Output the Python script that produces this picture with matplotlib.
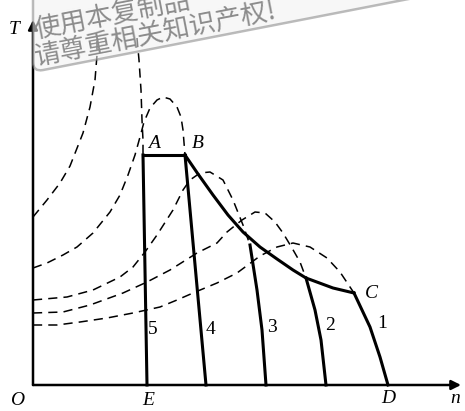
import numpy as np
import matplotlib.pyplot as plt
from matplotlib.patches import FancyBboxPatch
from matplotlib.transforms import Affine2D

# Mechanical characteristics T(n) for five supply frequencies (1 = highest, 5 = lowest)
# dashed: full natural characteristic, solid: working part
curve5_up_n = [0, 14, 27, 37, 50, 57, 62, 64, 64]
curve5_up_T = [168, 185, 202, 219, 252, 278, 305, 330, 347]
curve5_down_n = [104, 106, 108, 109, 110, 110]
curve5_down_T = [347, 325, 295, 265, 245, 230]

curve4_n = [0, 14, 30, 44, 60, 77, 87, 95, 102, 107, 111, 117, 124, 130, 137, 144, 148, 150, 152]
curve4_T = [117, 122, 130, 138, 152, 173, 190, 210, 230, 248, 263, 277, 285, 288, 286, 278, 268, 255, 230]

curve3_n = [0, 34, 60, 87, 100, 112, 124, 140, 150, 157, 167, 177, 190, 200, 210, 217]
curve3_T = [85, 88, 95, 108, 118, 133, 150, 175, 195, 205, 212, 213, 205, 185, 160, 140]

curve2_n = [0, 30, 57, 90, 114, 137, 164, 184, 194, 209, 222, 232, 242, 250, 259, 267, 273]
curve2_T = [72, 73, 80, 92, 103, 115, 132, 142, 153, 165, 173, 172, 163, 152, 137, 123, 107]

curve1_n = [0, 24, 47, 74, 100, 127, 144, 160, 184, 204, 227, 244, 260, 277, 294, 307, 321]
curve1_T = [60, 60, 63, 67, 72, 78, 85, 92, 102, 112, 129, 138, 142, 138, 127, 113, 92]

# working segments
line5_n, line5_T = [110, 114], [230, 0]
line4_n, line4_T = [152, 173], [230, 0]
line3_n, line3_T = [217, 224, 229, 233], [140, 95, 55, 0]
line2_n, line2_T = [273, 282, 288, 293], [107, 75, 45, 0]
line1_n, line1_T = [321, 337, 347, 355], [92, 58, 28, 0]

# limit lines: constant torque A-B, constant power B-C
ab_n, ab_T = [110, 152], [230, 230]
bc_n = [152, 165, 180, 195, 210, 227, 244, 260, 273, 300, 321]
bc_T = [230, 211, 190, 170, 153, 138, 126, 115, 107, 97, 92]

fig = plt.figure(figsize=(4.65, 4.11), dpi=100)
ax = fig.add_axes([0, 0, 1, 1])
ax.set_xlim(-33, 432)
ax.set_ylim(-26, 385)
ax.axis('off')

dash = dict(color='black', lw=1.1, ls=(0, (6, 4)))
for n, T in [(curve5_up_n, curve5_up_T), (curve5_down_n, curve5_down_T),
             (curve4_n, curve4_T), (curve3_n, curve3_T),
             (curve2_n, curve2_T), (curve1_n, curve1_T)]:
    ax.plot(n, T, **dash)

solid = dict(color='black', lw=2.2, solid_joinstyle='round')
for n, T in [(line5_n, line5_T), (line4_n, line4_T), (line3_n, line3_T),
             (line2_n, line2_T), (line1_n, line1_T), (ab_n, ab_T), (bc_n, bc_T)]:
    ax.plot(n, T, **solid)

# axes with arrows
arrow = dict(arrowstyle='-|>', lw=1.8, color='black', mutation_scale=14, shrinkA=0, shrinkB=0)
ax.annotate('', xy=(0, 365), xytext=(0, 0), arrowprops=arrow)
ax.annotate('', xy=(428, 0), xytext=(0, 0), arrowprops=arrow)

lab = dict(fontsize=14, style='italic', family='Liberation Serif', ha='center', va='center')
ax.text(-19, 355, 'T', **lab)
ax.text(-16, -15, 'O', **lab)
ax.text(115, -15, 'E', **lab)
ax.text(355, -13, 'D', **lab)
ax.text(422, -13, 'n', **lab)
ax.text(121, 242, 'A', **lab)
ax.text(165, 242, 'B', **lab)
ax.text(338, 92, 'C', **lab)

num = dict(fontsize=14, family='Liberation Serif', ha='center', va='center')
for x, y, s in [(120, 55, '5'), (177, 55, '4'), (239, 57, '3'), (297, 60, '2'), (349, 62, '1')]:
    ax.text(x, y, s, **num)

# copyright stamp in the top-left corner (slanted box, vertical sides)
skew = Affine2D().skew_deg(0, 11).translate(0, 313) + ax.transData
box = FancyBboxPatch((0, 0), 460, 120, boxstyle='round,pad=0,rounding_size=10',
                     fc='#f2f2f2', ec='#858585', lw=1.8, alpha=0.55, transform=skew, zorder=5)
ax.add_patch(box)
wm = dict(fontsize=19, color='#8c8c8c', family=['Noto Sans CJK SC', 'DejaVu Sans'],
          rotation=11, rotation_mode='anchor', ha='left', va='baseline', zorder=6)
ax.text(3, 347, '使用本复制品', **wm)
ax.text(3, 320, '请尊重相关知识产权!', **wm)

fig.savefig('out.png', dpi=100)
